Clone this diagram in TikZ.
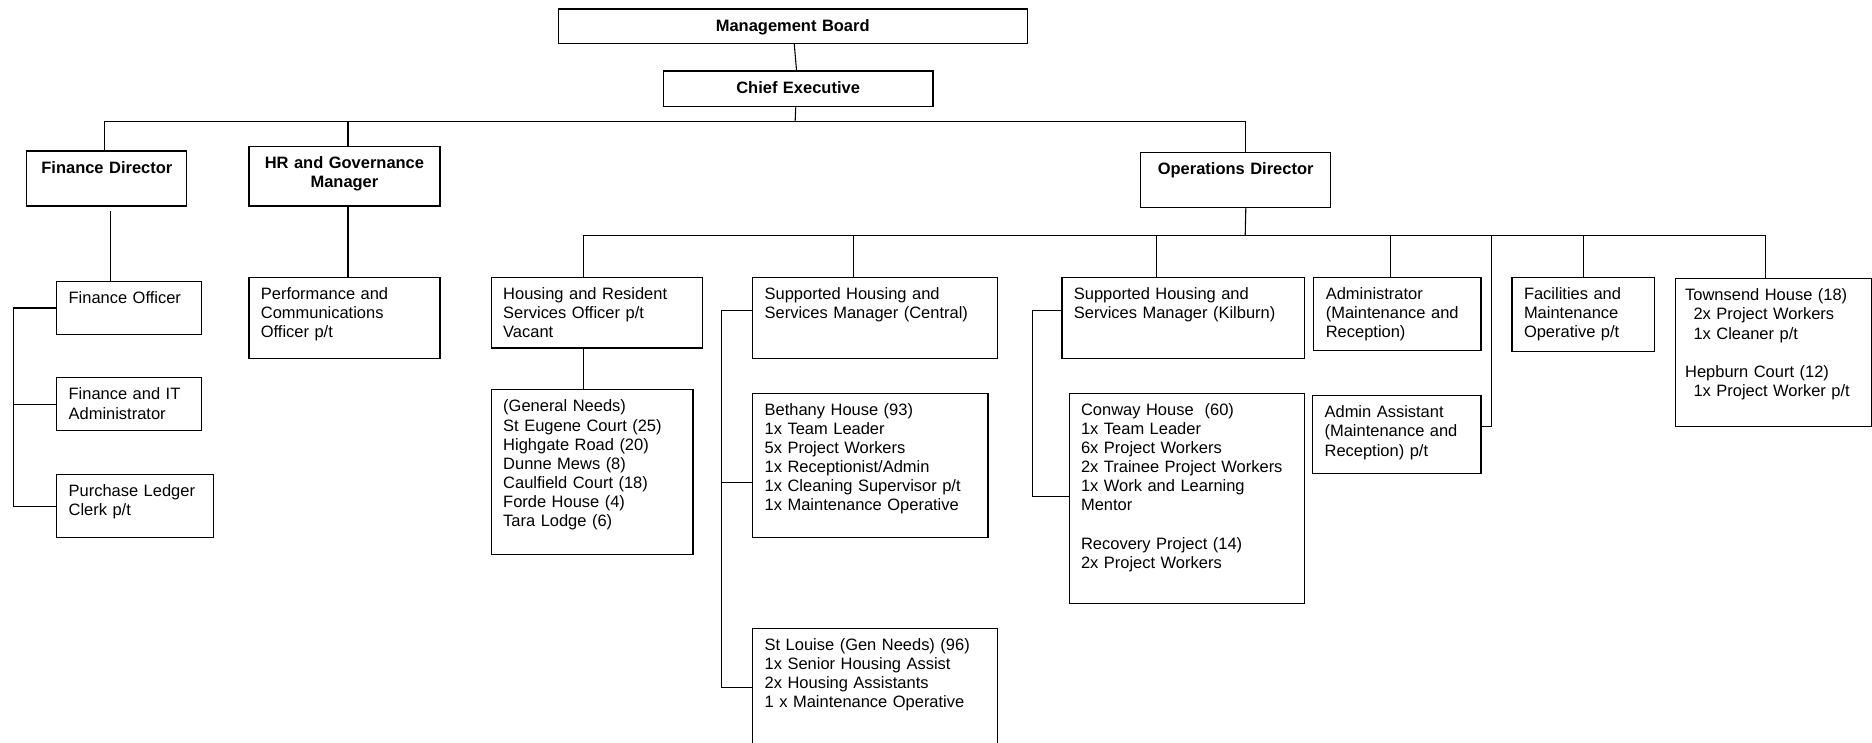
\documentclass[tikz,border=0pt]{standalone}
\usepackage{fontspec}
\setmainfont{Liberation Sans}
\newcommand\chartfont{\fontsize{13.8pt}{16pt}\selectfont}
\tikzset{
  post/.style={draw, line width=1pt, anchor=north west, align=left,
    inner xsep=10pt, inner ysep=0pt, text height=18.5pt},
  head/.style={post, align=center, font=\chartfont\bfseries},
  link/.style={line width=0.9pt},
}
\begin{document}
\begin{tikzpicture}[x=1pt,y=-1pt,font=\chartfont]
\useasboundingbox (0,0) rectangle (1568,622);

% board and directors
\node[head, text width=373pt, text depth=10.5pt] (mb) at (467,7) {Management Board};
\node[head, text width=206pt, text depth=11.5pt] (ce) at (555,59) {Chief Executive};
\node[head, text width=114pt, text depth=27.5pt] (fd) at (22,126) {Finance Director};
\node[head, text width=140pt, text depth=31.5pt] (hr) at (208,122) {HR and Governance\\Manager};
\node[head, text width=139pt, text depth=27.5pt] (od) at (955,127) {Operations Director};

\coordinate (bus1) at (666,102);
\draw[link] (mb) -- (ce);
\draw[link] ([xshift=-2pt]ce.south) -- (bus1);
\draw[link] ([xshift=-2pt]fd.north) |- (bus1) -| ([xshift=8.5pt]od.north);
\draw[link] ([xshift=3pt]hr.north) |- (bus1);

% finance
\node[post, text width=101pt, text depth=26.5pt] (fo) at (47,235) {Finance Officer};
\node[post, text width=101pt, text depth=25.5pt] (fit) at (47,316) {Finance and IT\\Administrator};
\node[post, text width=111pt, text depth=34.5pt] (pl) at (47,397) {Purchase Ledger\\Clerk p/t};
\draw[link] ([xshift=3pt,yshift=-4pt]fd.south) -- ([xshift=-15.5pt]fo.north);
\draw[link] (fo.west) -- +(-36,0) |- (pl.west);
\draw[link] (fit.west) -- +(-36,0);

% hr
\node[post, text width=140pt, text depth=49.5pt] (perf) at (208,232) {Performance and\\Communications\\Officer p/t};
\draw[link] ([xshift=3pt]hr.south) -- ([xshift=3pt]perf.north);

% operations
\node[post, text width=157pt, text depth=40.5pt] (hrso) at (411,232) {Housing and Resident\\Services Officer p/t\\Vacant};
\node[post, text width=149pt, text depth=119.5pt] (gn) at (411,326) {(General Needs)\\St Eugene Court (25)\\Highgate Road (20)\\Dunne Mews (8)\\Caulfield Court (18)\\Forde House (4)\\Tara Lodge (6)};
\node[post, text width=185pt, text depth=49.5pt] (shc) at (630,232) {Supported Housing and\\Services Manager (Central)};
\node[post, text width=177pt, text depth=102.5pt] (beth) at (630,329) {Bethany House (93)\\1x Team Leader\\5x Project Workers\\1x Receptionist/Admin\\1x Cleaning Supervisor p/t\\1x Maintenance Operative};
\node[post, text width=185pt, text depth=101.5pt] (stl) at (630,526) {St Louise (Gen Needs) (96)\\1x Senior Housing Assist\\2x Housing Assistants\\1 x Maintenance Operative};
\node[post, text width=183pt, text depth=49.5pt] (shk) at (889,232) {Supported Housing and\\Services Manager (Kilburn)};
\node[post, text width=177pt, text depth=157.5pt] (conway) at (895,329) {Conway House\ \ (60)\\1x Team Leader\\6x Project Workers\\2x Trainee Project Workers\\1x Work and Learning\\Mentor\\[16pt]Recovery Project (14)\\2x Project Workers};
\node[post, text width=120pt, text depth=42.5pt] (adm) at (1100,232) {Administrator\\(Maintenance and\\Reception)};
\node[post, text width=121pt, text depth=46.5pt] (adma) at (1099,331) {Admin Assistant\\(Maintenance and\\Reception) p/t};
\node[post, text width=99pt, text depth=43.5pt] (fac) at (1266,232) {Facilities and\\Maintenance\\Operative p/t};
\node[post, inner xsep=8pt, text width=148pt, text depth=105.5pt] (town) at (1403,233) {Townsend House (18)\\\hspace*{7pt}2x Project Workers\\\hspace*{7pt}1x Cleaner p/t\\[16pt]Hepburn Court (12)\\\hspace*{7pt}1x Project Worker p/t};

\coordinate (bus2) at (1043,197);
\coordinate (aj) at (1249,197);
\draw[link] ([xshift=8.5pt]od.south) -- (bus2);
\draw[link] ([xshift=-11.5pt]hrso.north) |- (bus2) -| ([xshift=-7pt]town.north);
\draw[link] ([xshift=-11.5pt]hrso.south) -- ([xshift=-7.5pt]gn.north);
\draw[link] ([xshift=-18.5pt]shc.north) |- (bus2);
\draw[link] ([xshift=-22.5pt]shk.north) |- (bus2);
\draw[link] ([xshift=-6pt]adm.north) |- (bus2);
\draw[link] (fac.north) |- (bus2);
\draw[link] ([yshift=6.5pt]adma.east) -| (aj);

\draw[link] ([yshift=-28pt]shc.north west) -- +(-26,0) |- ([yshift=-50pt]stl.north west);
\draw[link] ([yshift=-75pt]beth.north west) -- +(-26,0);
\draw[link] ([yshift=-28pt]shk.north west) -- +(-24,0) |- ([yshift=-87pt]conway.north west);
\end{tikzpicture}
\end{document}
